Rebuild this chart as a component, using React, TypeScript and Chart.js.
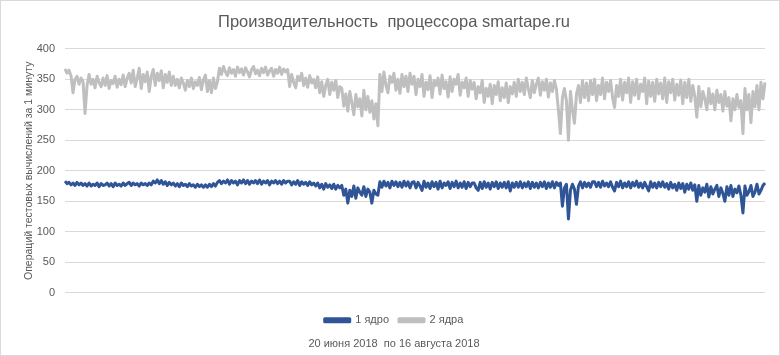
import React, { useEffect, useRef } from "react";
import { Chart, registerables } from "chart.js";

Chart.register(...registerables);

const titleText = "Производительность  процессора smartape.ru";
const yAxisTitle = "Операций тестовых вычислений за 1 минуту";
const periodText = "20 июня 2018  по 16 августа 2018";
const seriesNames = ["1 ядро", "2 ядра"];
const yTicks = [0, 50, 100, 150, 200, 250, 300, 350, 400];

// 1 ядро (one core)
const core1: number[] = [
  183, 179, 181, 177, 180, 176,
  181, 177, 180, 176,
  179, 175,
  180, 175, 178, 176, 180, 174, 179, 176, 177, 180, 175, 179, 174, 180, 176, 178, 175, 180, 176, 179,
  181, 176, 180, 177, 179, 175, 180, 177, 179, 176, 180, 177, 183, 180, 185, 179, 184, 178, 182, 176, 181, 177,
  180, 175, 179, 174, 180, 176, 178, 174, 179, 175, 177, 173, 178, 174, 177, 173,
  177, 173, 178, 174, 179, 175, 181,
  184, 179, 183, 180, 185, 178, 184, 180, 183, 177, 184, 180, 185, 179, 184, 178, 183, 180, 184, 179,
  185, 178, 183, 180, 184, 177, 183, 180, 184, 179, 183, 178, 184, 180, 183,
  183, 177, 182, 178, 184, 176, 182, 178, 181, 176, 182, 177, 180, 175,
  180, 172, 178, 170, 179, 173, 177, 171, 178, 170, 176, 172,
  176, 160, 170, 147, 168, 158, 175, 155, 172, 165, 160, 174, 158, 170, 165, 147, 168, 162,
  160,
  182, 173, 183, 175, 181, 172, 183, 176, 182, 174, 181, 173, 183, 175, 182, 172, 181,
  182, 172, 181, 175, 168, 183, 173, 180, 171, 182, 174, 181, 170, 183, 172,
  180, 176, 182, 171, 181, 174, 183, 172, 180, 173, 182, 171, 181, 174, 180,
  180, 172, 168, 181, 171, 182, 173, 180, 170, 181, 174, 182, 171, 180, 173, 181, 172, 182, 167, 180, 173,
  181, 173, 182, 172, 180, 174, 182, 171, 181, 173, 180, 172, 181, 174, 182, 171, 180, 173, 182, 172, 181,
  176, 180, 142, 172, 178, 121, 168, 178, 170, 145, 175,
  182, 172, 181, 174, 180, 173, 182,
  182, 174, 181, 173, 183, 175, 180, 174, 182, 173, 167, 181, 174, 183, 172, 180, 174, 182, 172, 181,
  175, 183, 173, 180, 172, 181, 174, 167, 182, 173, 180, 172, 181, 174, 182, 173, 179, 170, 181, 172,
  178, 168, 180, 171, 179, 165, 178, 170, 180, 168, 177,
  150,
  176, 160, 172, 165, 178, 157, 174, 162, 170, 176, 158, 172, 163, 150, 174, 160, 176, 158, 170, 164, 175, 160,
  131,
  175, 160, 166, 176, 158, 165, 178, 162, 168, 176, 180,
];

// 2 ядра (two cores)
const core2: number[] = [
  367, 360, 365, 356, 328, 350,
  355, 342, 352, 346,
  294, 340,
  358, 342, 350, 336, 355, 345, 338, 352, 340, 356, 335, 348, 343, 355, 337, 350, 341, 357, 338, 352,
  360, 344, 365, 338, 352, 368, 335, 358, 346, 362, 330, 355, 366, 340, 360, 348, 364, 336, 358, 345, 362, 340,
  355, 340, 350, 336, 352, 344, 332, 348, 338, 352, 335, 346, 340, 353, 333, 349,
  357, 330, 348, 328, 352, 335, 346,
  368, 358, 371, 362, 356, 369, 360, 366, 355, 370, 361, 367, 357, 369, 362, 354, 366, 371, 359, 365,
  356, 368, 361, 370, 357, 364, 368, 355, 366, 360, 370, 358, 367, 362, 366,
  338, 358, 345, 336, 355, 348, 360, 340, 352, 337, 356, 344, 350, 336,
  354, 328, 346, 322, 340, 350, 325, 345, 332, 348, 320, 338,
  335, 306, 326, 298, 330, 312, 292, 325, 305, 318, 290, 332, 300, 322, 296, 315, 285, 310,
  274,
  358, 330, 362, 340, 328, 355, 345, 360, 332, 350, 327, 358, 338, 355, 330, 360, 342,
  355, 325, 350, 338, 358, 322, 345, 333, 356, 320, 348, 340, 352, 326, 357,
  335, 346, 321, 354, 330, 350, 342, 358, 324, 345, 336, 352, 322, 348, 334,
  345, 318, 338, 328, 348, 312, 335, 322, 342, 310, 340, 325, 346, 315, 336, 320, 344, 312, 338, 326, 345,
  322, 350, 330, 345, 325, 352, 335, 320, 348, 328, 342, 352, 324, 346, 332, 350, 321, 344, 330, 348, 334,
  300, 261, 320, 335, 315, 250, 330, 300, 278, 325, 340,
  312, 348, 320, 344, 315, 348, 325,
  350, 315, 340, 325, 352, 318, 345, 330, 348, 320, 304, 340, 322, 350, 316, 345, 328, 352, 312, 346,
  324, 350, 318, 342, 330, 352, 310, 347, 322, 345, 314, 350, 326, 344, 318, 352, 312, 346, 328, 350,
  316, 342, 324, 349, 310, 345, 320, 350, 314, 340, 322,
  288,
  338, 305, 330, 318, 300, 335, 310, 326, 300, 332, 312, 325, 298, 330, 306, 320, 282, 318, 300, 325, 304, 315,
  261,
  335, 300, 325, 279, 330, 305, 340, 300, 345, 318, 345,
];

const categories = core1.map((_, i) => String(i + 1));

const FONT = "'Liberation Sans', 'DejaVu Sans', sans-serif";
const TEXT = "#595959";

export default function App() {
  const ref = useRef<HTMLCanvasElement | null>(null);

  useEffect(() => {
    if (!ref.current) return;
    const chart = new Chart(ref.current, {
      type: "line",
      data: {
        labels: categories,
        datasets: [
          {
            label: seriesNames[0],
            data: core1,
            borderColor: "#2F5597",
            backgroundColor: "#2F5597",
            borderWidth: 3,
            borderJoinStyle: "round",
            pointRadius: 0,
            tension: 0,
          },
          {
            label: seriesNames[1],
            data: core2,
            borderColor: "#BFBFBF",
            backgroundColor: "#BFBFBF",
            borderWidth: 3,
            borderJoinStyle: "round",
            pointRadius: 0,
            tension: 0,
          },
        ],
      },
      options: {
        animation: false,
        responsive: false,
        maintainAspectRatio: false,
        layout: { padding: { left: 22, right: 14, top: 0, bottom: 2 } },
        plugins: {
          tooltip: { enabled: false },
          title: {
            display: true,
            text: titleText,
            color: TEXT,
            font: { family: FONT, size: 16.5, weight: "normal" },
            padding: { top: 12, bottom: 16 },
          },
          legend: {
            display: true,
            position: "bottom",
            labels: {
              color: TEXT,
              font: { family: FONT, size: 11 },
              boxWidth: 25,
              boxHeight: 3,
              padding: 10,
            },
          },
          subtitle: {
            display: true,
            position: "bottom",
            text: periodText,
            color: TEXT,
            font: { family: FONT, size: 11, weight: "normal" },
            padding: { top: 2, bottom: 2 },
          },
        },
        scales: {
          x: {
            display: true,
            grid: { display: false },
            border: { display: false },
            ticks: { display: false },
            afterFit: (scale: any) => {
              scale.height = 12;
            },
          },
          y: {
            min: 0,
            max: 400,
            afterBuildTicks: (scale: any) => {
              scale.ticks = yTicks.map((v) => ({ value: v }));
            },
            afterFit: (scale: any) => {
              scale.width = 42;
            },
            border: { display: false },
            grid: { color: "#D9D9D9", lineWidth: 1, drawTicks: false },
            ticks: {
              color: TEXT,
              font: { family: FONT, size: 11 },
              padding: 10,
            },
            title: {
              display: true,
              text: yAxisTitle,
              color: TEXT,
              font: { family: FONT, size: 10.5 },
              padding: { top: 0, bottom: 0 },
            },
          },
        },
      },
    });
    return () => chart.destroy();
  }, []);

  return (
    <div
      style={{
        position: "fixed",
        left: 0,
        top: 0,
        width: 780,
        height: 356,
        boxSizing: "border-box",
        border: "1px solid #D9D9D9",
        background: "#fff",
      }}
    >
      <canvas ref={ref} width={778} height={354} style={{ display: "block" }} />
    </div>
  );
}
